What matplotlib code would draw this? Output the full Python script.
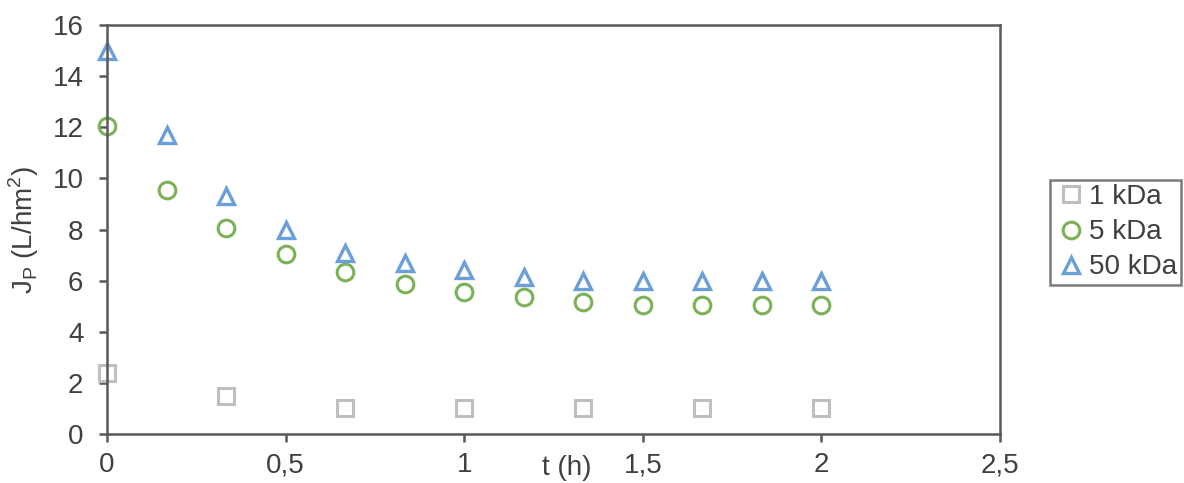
import numpy as np
import matplotlib
matplotlib.use('Agg')
import matplotlib.pyplot as plt

plt.rcParams['font.family'] = ['Liberation Sans', 'DejaVu Sans']
plt.rcParams['mathtext.fontset'] = 'custom'
plt.rcParams['mathtext.rm'] = 'Liberation Sans'

# -- data (t in h, Jp in L/hm2)
t_1k = [0, 1/3, 2/3, 1, 4/3, 5/3, 2]
jp_1k = [2.4, 1.5, 1.0, 1.0, 1.0, 1.0, 1.0]
t_5k = [0, 1/6, 1/3, 1/2, 2/3, 5/6, 1, 7/6, 4/3, 3/2, 5/3, 11/6, 2]
jp_5k = [12.05, 9.55, 8.05, 7.05, 6.35, 5.85, 5.55, 5.35, 5.15, 5.05, 5.05, 5.05, 5.05]
t_50k = t_5k
jp_50k = [15.0, 11.7, 9.3, 8.0, 7.1, 6.7, 6.4, 6.15, 6.0, 6.0, 6.0, 6.0, 6.0]
labels = ['1 kDa', '5 kDa', '50 kDa']

axc = '#595959'
txtc = '#404040'
fs = 20

fig = plt.figure(figsize=(11.84, 4.83), dpi=100)
ax = fig.add_axes([107/1184, 1-434/483, (1000-107)/1184, (434-25)/483])

ax.plot(t_1k, jp_1k, 's', ls='none', ms=11, mfc='none', mec='#BFBFBF', mew=2.2, label=labels[0], clip_on=False)
ax.plot(t_5k, jp_5k, 'o', ls='none', ms=12, mfc='none', mec='#7CB257', mew=2.2, label=labels[1], clip_on=False)
ax.plot(t_50k, jp_50k, '^', ls='none', ms=12, mfc='none', mec='#6A9FD8', mew=2.4, label=labels[2], clip_on=False)

ax.set_xlim(0, 2.5)
ax.set_ylim(0, 16)
ax.set_xticks([0, 0.5, 1, 1.5, 2, 2.5])
ax.set_xticklabels(['0', '0,5', '1', '1,5', '2', '2,5'])
ax.set_yticks(np.arange(0, 17, 2))

for s in ax.spines.values():
    s.set_color(axc)
    s.set_linewidth(1.8)
ax.tick_params(axis='both', direction='out', length=6, width=1.8, color=axc,
               labelsize=fs, labelcolor=txtc)
ax.tick_params(axis='x', pad=7)
ax.tick_params(axis='y', pad=11)

ax.text(0.515, -0.1, 't (h)', transform=ax.transAxes, fontsize=fs, color=txtc,
        ha='center', va='baseline')
ax.set_ylabel(r'J$_\mathrm{P}$ (L/hm$^\mathrm{2}$)', fontsize=fs, color=txtc)
ax.yaxis.set_label_coords(-0.074, 0.5)

leg = ax.legend(loc='upper left', bbox_to_anchor=(1050/1184, 1-180/483),
                bbox_transform=fig.transFigure, fontsize=fs, frameon=True,
                fancybox=False, borderpad=0.15, labelspacing=0.33,
                handlelength=1.2, handletextpad=0.05, borderaxespad=0,
                markerscale=1.0)
leg.get_frame().set_edgecolor(axc)
leg.get_frame().set_linewidth(1.8)
for tx in leg.get_texts():
    tx.set_color(txtc)

fig.savefig('out.png', dpi=100)
